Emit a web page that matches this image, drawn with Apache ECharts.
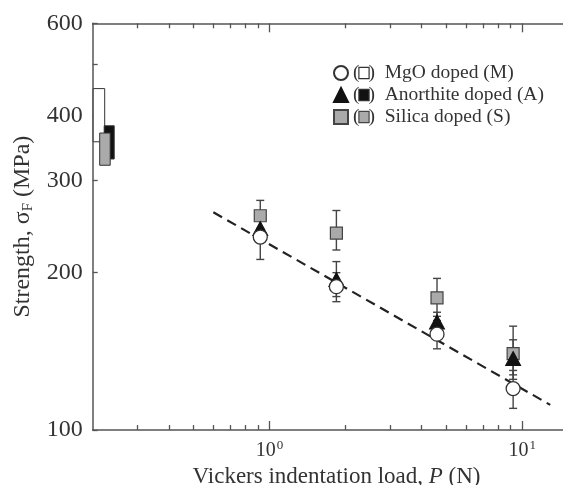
<!DOCTYPE html>
<html>
<head>
<meta charset="utf-8">
<script src="https://cdn.jsdelivr.net/npm/echarts@6/dist/echarts.min.js"></script>
<style>
html, body { margin: 0; padding: 0; background: #fff; }
#chart { width: 563px; height: 485px; }
</style>
</head>
<body>
<div id="chart"></div>
<script>
// indentation loads (N)
var loads = [0.92, 1.84, 4.6, 9.2];
// MgO doped (M)
var mgoStrength = [234, 188, 152.5, 120];
var mgoLow = [212, 176, 143, 110];
var mgoHigh = [256, 200, 162, 130];
// Anorthite doped (A)
var anoStrength = [243, 194, 161, 137];
var anoLow = [230, 180, 152, 127.5];
var anoHigh = [256, 210, 168, 148.8];
// Silica doped (S)
var silStrength = [257, 238, 179, 140];
var silLow = [243, 221, 165, 125];
var silHigh = [275, 263, 195, 158];
// fitted line
var fitLoad = [0.6, 12.9];
var fitStrength = [261, 111.7];
// unindented strength ranges (M, A, S)
var bulkLow = [356, 330, 321];
var bulkHigh = [450, 382, 370];
// ticks
var yLabels = [100, 200, 300, 400, 600];
var yTicks = [100, 200, 300, 400, 500, 600];
var xLabels = [1, 10];
var xMinorTicks = [0.3, 0.4, 0.5, 0.6, 0.7, 0.8, 0.9, 2, 3, 4, 5, 6, 7, 8, 9, 20];

var FONT = 'Liberation Serif';
var axisColor = '#555';

function pairs(xs, ys) {
    return xs.map(function (x, i) { return [x, ys[i]]; });
}
function bars(xs, lo, hi) {
    return xs.map(function (x, i) { return [x, lo[i], hi[i]]; });
}

function errorBarItem(params, api) {
    var x = api.value(0);
    var lo = api.coord([x, api.value(1)]);
    var hi = api.coord([x, api.value(2)]);
    var w = 4;
    var st = { stroke: '#444', lineWidth: 1.4 };
    return {
        type: 'group',
        children: [
            { type: 'line', shape: { x1: lo[0], y1: lo[1], x2: hi[0], y2: hi[1] }, style: st },
            { type: 'line', shape: { x1: lo[0] - w, y1: lo[1], x2: lo[0] + w, y2: lo[1] }, style: st },
            { type: 'line', shape: { x1: hi[0] - w, y1: hi[1], x2: hi[0] + w, y2: hi[1] }, style: st }
        ]
    };
}

// boxes next to the y axis: offset / width in px, fill
var boxLook = [
    { off: 0.5, w: 11.5, fill: '#fff' },
    { off: 11.5, w: 10, fill: '#111' },
    { off: 7, w: 10.5, fill: '#aaa' }
];
function bulkItem(params, api) {
    var look = boxLook[params.dataIndex];
    var top = api.coord([0.2, api.value(1)]);
    var bot = api.coord([0.2, api.value(0)]);
    return {
        type: 'rect',
        shape: { x: top[0] + look.off, y: top[1], width: look.w, height: bot[1] - top[1] },
        style: { fill: look.fill, stroke: '#333', lineWidth: 1 }
    };
}

function xAxisBase(pos, ticks, len, showLine) {
    return {
        type: 'log', logBase: 10, min: 0.2, max: 20, position: pos,
        axisLine: { show: showLine, onZero: false, lineStyle: { color: axisColor, width: 1.5 } },
        axisTick: { show: true, inside: true, length: len, customValues: ticks, lineStyle: { color: axisColor, width: 1.3 } },
        axisLabel: { show: false },
        splitLine: { show: false },
        minorTick: { show: false }
    };
}

var xMain = xAxisBase('bottom', xLabels, 9, true);
xMain.axisLabel = {
    show: true, customValues: xLabels, margin: 9,
    formatter: function (v) {
        return '{b|10}{s|' + Math.round(Math.log(v) / Math.LN10) + '}';
    },
    rich: {
        b: { fontFamily: FONT, fontSize: 20, color: '#333', lineHeight: 22, verticalAlign: 'bottom' },
        s: { fontFamily: FONT, fontSize: 13, color: '#333', lineHeight: 22, verticalAlign: 'top', padding: [0, 0, 8, 1] }
    }
};
xMain.name = '{n|Vickers indentation load, }{i|P}{n| (N)}';
xMain.nameLocation = 'middle';
xMain.nameGap = 34;
xMain.nameTextStyle = {
    padding: [0, 18, 0, 0],
    rich: {
        n: { fontFamily: FONT, fontSize: 23, color: '#333' },
        i: { fontFamily: FONT, fontSize: 23, color: '#333', fontStyle: 'italic' }
    }
};

var chart = echarts.init(document.getElementById('chart'), null, { renderer: 'canvas' });
chart.setOption({
    animation: false,
    backgroundColor: '#fff',
    grid: { left: 92.7, top: 23.3, height: 406.7, width: 505.7, outerBoundsMode: 'none', containLabel: false },
    legend: {
        orient: 'vertical',
        left: 328, top: 58,
        itemWidth: 14, itemHeight: 14, itemGap: 2,
        selectedMode: false,
        data: ['MgO doped (M)', 'Anorthite doped (A)', 'Silica doped (S)'],
        formatter: function (name) {
            var key = name.indexOf('MgO') === 0 ? 'wb' : (name.indexOf('Anorthite') === 0 ? 'kb' : 'gb');
            return '{t|(}{' + key + '|}{t|)  ' + name + '}';
        },
        textStyle: {
            rich: {
                t: { fontFamily: FONT, fontSize: 19.5, color: '#333' },
                wb: { width: 9, height: 10, backgroundColor: '#fff', borderColor: '#333', borderWidth: 1.2 },
                kb: { width: 9, height: 10, backgroundColor: '#111', borderColor: '#333', borderWidth: 1.2 },
                gb: { width: 9, height: 10, backgroundColor: '#aaa', borderColor: '#444', borderWidth: 1.2 }
            }
        }
    },
    xAxis: [
        xMain,
        xAxisBase('bottom', xMinorTicks, 5, false),
        xAxisBase('top', xLabels, 9, true),
        xAxisBase('top', xMinorTicks, 5, false)
    ],
    yAxis: {
        type: 'log', logBase: 10, min: 100, max: 600,
        axisLine: { show: true, onZero: false, lineStyle: { color: axisColor, width: 1.5 } },
        axisTick: { inside: true, length: 5, customValues: yTicks, lineStyle: { color: axisColor, width: 1.3 } },
        axisLabel: { customValues: yLabels, margin: 10, fontFamily: FONT, fontSize: 24, color: '#333' },
        splitLine: { show: false },
        minorTick: { show: false },
        name: '{n|Strength, σ}{s|F}{n| (MPa)}',
        nameLocation: 'middle',
        nameRotate: 90,
        nameGap: 57,
        nameTextStyle: {
            rich: {
                n: { fontFamily: FONT, fontSize: 24, color: '#333', lineHeight: 26, verticalAlign: 'middle' },
                s: { fontFamily: FONT, fontSize: 15, color: '#333', lineHeight: 26, verticalAlign: 'bottom', padding: [8, 0, 0, 0] }
            }
        }
    },
    series: [
        {
            type: 'custom', name: 'bulk', renderItem: bulkItem, clip: false,
            encode: { y: [0, 1] }, z: 3,
            data: bulkLow.map(function (lo, i) { return [lo, bulkHigh[i]]; }),
            dimensions: ['low', 'high'],
            coordinateSystem: 'cartesian2d'
        },
        {
            type: 'line', name: 'fit', data: pairs(fitLoad, fitStrength),
            symbol: 'none', z: 2,
            lineStyle: { color: '#222', width: 2.2, type: [10, 6] }
        },
        { type: 'custom', name: 'errS', renderItem: errorBarItem, encode: { x: 0, y: [1, 2] }, data: bars(loads, silLow, silHigh), z: 3 },
        { type: 'custom', name: 'errA', renderItem: errorBarItem, encode: { x: 0, y: [1, 2] }, data: bars(loads, anoLow, anoHigh), z: 3 },
        { type: 'custom', name: 'errM', renderItem: errorBarItem, encode: { x: 0, y: [1, 2] }, data: bars(loads, mgoLow, mgoHigh), z: 3 },
        {
            type: 'scatter', name: 'Silica doped (S)', data: pairs(loads, silStrength), z: 4,
            symbol: 'rect', symbolSize: 12,
            itemStyle: { color: '#aaa', borderColor: '#444', borderWidth: 1.2, opacity: 1 }
        },
        {
            type: 'scatter', name: 'Anorthite doped (A)', data: pairs(loads, anoStrength), z: 5,
            symbol: 'triangle', symbolSize: [15, 14],
            itemStyle: { color: '#111', borderColor: '#111', borderWidth: 1, opacity: 1 }
        },
        {
            type: 'scatter', name: 'MgO doped (M)', data: pairs(loads, mgoStrength), z: 6,
            symbol: 'circle', symbolSize: 14,
            itemStyle: { color: '#fff', borderColor: '#333', borderWidth: 1.3, opacity: 1 }
        }
    ]
});
</script>
</body>
</html>
